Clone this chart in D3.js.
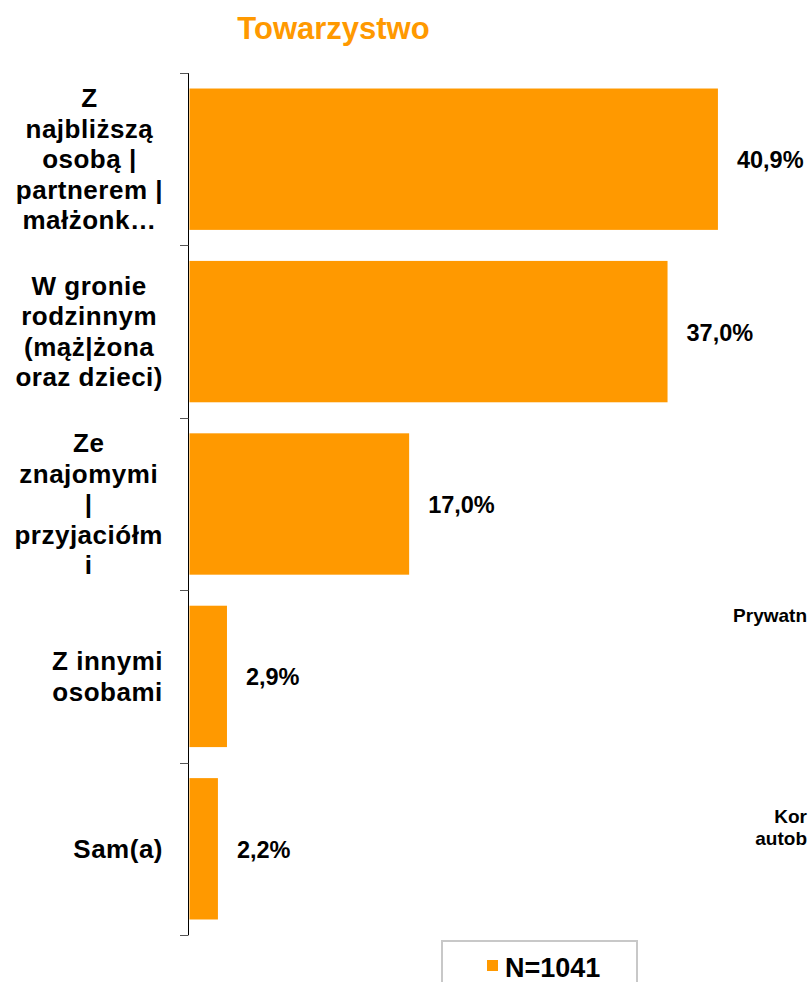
<!DOCTYPE html>
<html lang="pl">
<head>
    <meta charset="utf-8" />
    <title>Towarzystwo</title>
    <script src="https://d3js.org/d3.v7.min.js"></script>
    <style>
        body {
            margin: 0;
            padding: 0;
            background: #ffffff;
            font-family: "Liberation Sans", Arial, sans-serif;
        }
        svg {
            display: block;
        }
    </style>
</head>
<body>
<svg id="chart"></svg>
<script>
    var w = 809;
    var h = 982;

    // Data
    var categories = ["Z najbliższą osobą | partnerem | małżonk…", "W gronie rodzinnym (mąż|żona oraz dzieci)",
                      "Ze znajomymi | przyjaciółmi", "Z innymi osobami", "Sam(a)"];
    var categoryLines = [
        ["Z", "najbliższą", "osobą |", "partnerem |", "małżonk…"],
        ["W gronie", "rodzinnym", "(mąż|żona", "oraz dzieci)"],
        ["Ze", "znajomymi", "|", "przyjaciółm", "i"],
        ["Z innymi", "osobami"],
        ["Sam(a)"]
    ];
    var values = [40.9, 37.0, 17.0, 2.9, 2.2];
    var valueLabels = ["40,9%", "37,0%", "17,0%", "2,9%", "2,2%"];
    var title = "Towarzystwo";
    var legendLabel = "N=1041";
    // pieces of a neighbouring chart, cut off at the right edge in the original
    var sideLabels = ["Prywatn", "Kor", "autob"];

    var orange = "#FF9900";

    var svg = d3.select("#chart")
                .attr("width", w)
                .attr("height", h);

    var xScale = d3.scaleLinear()
                .domain([0, 50])
                .range([189.5, 835.5]);

    var yScale = d3.scaleBand()
                .domain(categories)
                .range([73, 935])
                .paddingInner(0.18)
                .paddingOuter(0.09);

    // Title
    svg.append("text")
        .attr("x", 333.5)
        .attr("y", 39)
        .attr("text-anchor", "middle")
        .attr("font-size", "31px")
        .attr("font-weight", "bold")
        .attr("fill", orange)
        .text(title);

    // Bars
    svg.selectAll("rect.bar")
        .data(values)
        .enter().append("rect")
        .attr("class", "bar")
        .attr("x", xScale(0))
        .attr("y", function(d, i) {
            return yScale(categories[i]);
        })
        .attr("width", function(d) {
            return xScale(d) - xScale(0);
        })
        .attr("height", yScale.bandwidth())
        .attr("fill", orange);

    // Axis line and tick marks between categories
    var step = yScale.step();
    var y0 = yScale.range()[0];
    svg.append("line")
        .attr("x1", 188.5).attr("x2", 188.5)
        .attr("y1", y0).attr("y2", yScale.range()[1])
        .attr("stroke", "#000")
        .attr("stroke-width", 1);

    svg.selectAll("line.tick")
        .data(d3.range(categories.length + 1))
        .enter().append("line")
        .attr("class", "tick")
        .attr("x1", 180).attr("x2", 188.5)
        .attr("y1", function(i) { return Math.round(y0 + i * step) + 0.5; })
        .attr("y2", function(i) { return Math.round(y0 + i * step) + 0.5; })
        .attr("stroke", "#555")
        .attr("stroke-width", 1);

    // Category labels: each block sits against the axis, lines centred inside it
    var lineH = 30.5;
    var labelRight = 163;
    categoryLines.forEach(function(lines, i) {
        var cy = yScale(categories[i]) + yScale.bandwidth() / 2;
        var t = svg.append("text")
            .attr("text-anchor", "middle")
            .attr("font-size", "26px")
            .attr("letter-spacing", "0.5px")
            .attr("font-weight", "bold")
            .attr("fill", "#000");
        lines.forEach(function(line, j) {
            t.append("tspan")
                .attr("y", cy + 9 + (j - (lines.length - 1) / 2) * lineH)
                .text(line);
        });
        // block width = widest line
        var maxW = 0;
        t.selectAll("tspan").each(function() {
            maxW = Math.max(maxW, this.getComputedTextLength());
        });
        t.selectAll("tspan").attr("x", labelRight - maxW / 2);
    });

    // Value labels
    svg.selectAll("text.value")
        .data(values)
        .enter().append("text")
        .attr("class", "value")
        .attr("x", function(d) {
            return xScale(d) + 19;
        })
        .attr("y", function(d, i) {
            return yScale(categories[i]) + yScale.bandwidth() / 2 + 9;
        })
        .attr("font-size", "23.5px")
        .attr("font-weight", "bold")
        .attr("fill", "#000")
        .text(function(d, i) {
            return valueLabels[i];
        });

    // Fragments at the right edge
    var side = svg.append("g")
        .attr("font-size", "19px")
        .attr("font-weight", "bold")
        .attr("text-anchor", "end")
        .attr("fill", "#000");
    side.append("text").attr("x", 807).attr("y", 622).text(sideLabels[0]);
    side.append("text").attr("x", 807).attr("y", 823).text(sideLabels[1]);
    side.append("text").attr("x", 807).attr("y", 845).text(sideLabels[2]);

    // Legend
    var legend = svg.append("g");
    legend.append("rect")
        .attr("x", 442)
        .attr("y", 941)
        .attr("width", 195)
        .attr("height", 60)
        .attr("fill", "#fff")
        .attr("stroke", "#c8c8c8")
        .attr("stroke-width", 2);
    legend.append("rect")
        .attr("x", 487)
        .attr("y", 960)
        .attr("width", 11)
        .attr("height", 11)
        .attr("fill", orange);
    legend.append("text")
        .attr("x", 505)
        .attr("y", 977)
        .attr("font-size", "27px")
        .attr("font-weight", "bold")
        .attr("fill", "#000")
        .text(legendLabel);
</script>
</body>
</html>
